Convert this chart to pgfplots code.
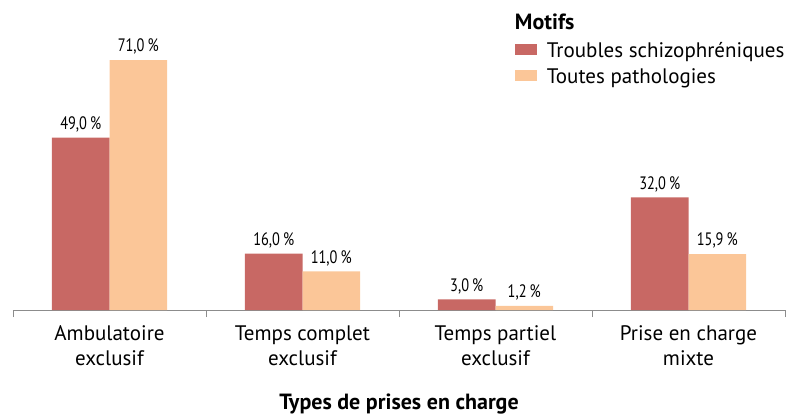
\documentclass[border=0pt]{standalone}
\usepackage{pgfplots}
\pgfplotsset{compat=1.18}
\usepackage{fontspec}
\setmainfont{PT Sans}
\newfontfamily\condfont[FakeStretch=0.8]{PT Sans}
\definecolor{cred}{RGB}{200,104,100}
\definecolor{corange}{RGB}{251,198,152}
\definecolor{axgray}{RGB}{140,140,140}
\begin{document}
\begin{tikzpicture}
\begin{axis}[
  width=772pt, height=310pt, scale only axis,
  xmin=-0.5, xmax=3.5, ymin=0, ymax=88.07,
  axis x line*=bottom, hide y axis,
  axis line style={axgray, line width=0.8pt},
  ybar, bar width=0.298, 
  xtick={0,1,2,3},
  xticklabels={{Ambulatoire\\exclusif},{Temps complet\\exclusif},{Temps partiel\\exclusif},{Prise en charge\\mixte}},
  major tick length=0pt,
  minor xtick={-0.5,0.5,1.5,2.5,3.5},
  minor tick length=7pt, tick align=outside,
  minor tick style={axgray, line width=0.8pt},
  xticklabel style={font=\fontsize{21}{25}\selectfont, align=center, text depth=0pt, yshift=-12pt},
  xlabel={\bfseries Types de prises en charge},
  xlabel style={font=\fontsize{22}{24}\selectfont, yshift=-22pt},
  /pgf/number format/assume math mode=true,
  nodes near coords={\pgfmathprintnumber[fixed, fixed zerofill, precision=1, use comma]{\pgfplotspointmeta}\,\%},
  nodes near coords style={font=\condfont\fontsize{18}{20}\selectfont, text=black, yshift=2pt},
  legend image code/.code={\fill[#1,draw=none] (0pt,-5pt) rectangle (22pt,6pt); \path (32pt,0pt);},
  legend style={at={(axis description cs:0.650,0.863)}, anchor=north west, draw=none, fill=none,
    font=\fontsize{21}{24}\selectfont, inner sep=0pt, row sep=11pt,
    nodes={inner sep=0pt, text depth=0pt},
    /tikz/every even column/.append style={column sep=0pt}},
  legend cell align=left,
  clip=false,
]
\addplot[fill=cred, draw=none, bar shift=-0.149] coordinates {(0,49.0) (1,16.0) (2,3.0) (3,32.0)};
\addplot[fill=corange, draw=none, bar shift=0.149] coordinates {(0,71.0) (1,11.0) (2,1.2) (3,15.9)};
\legend{Troubles schizophréniques, Toutes pathologies}
\node[anchor=west, font=\bfseries\fontsize{22}{24}\selectfont, inner sep=0pt] at (axis description cs:0.650,0.929) {Motifs};
\end{axis}
\path (-13pt,-102pt) rectangle (777pt,310pt);
\end{tikzpicture}
\end{document}
